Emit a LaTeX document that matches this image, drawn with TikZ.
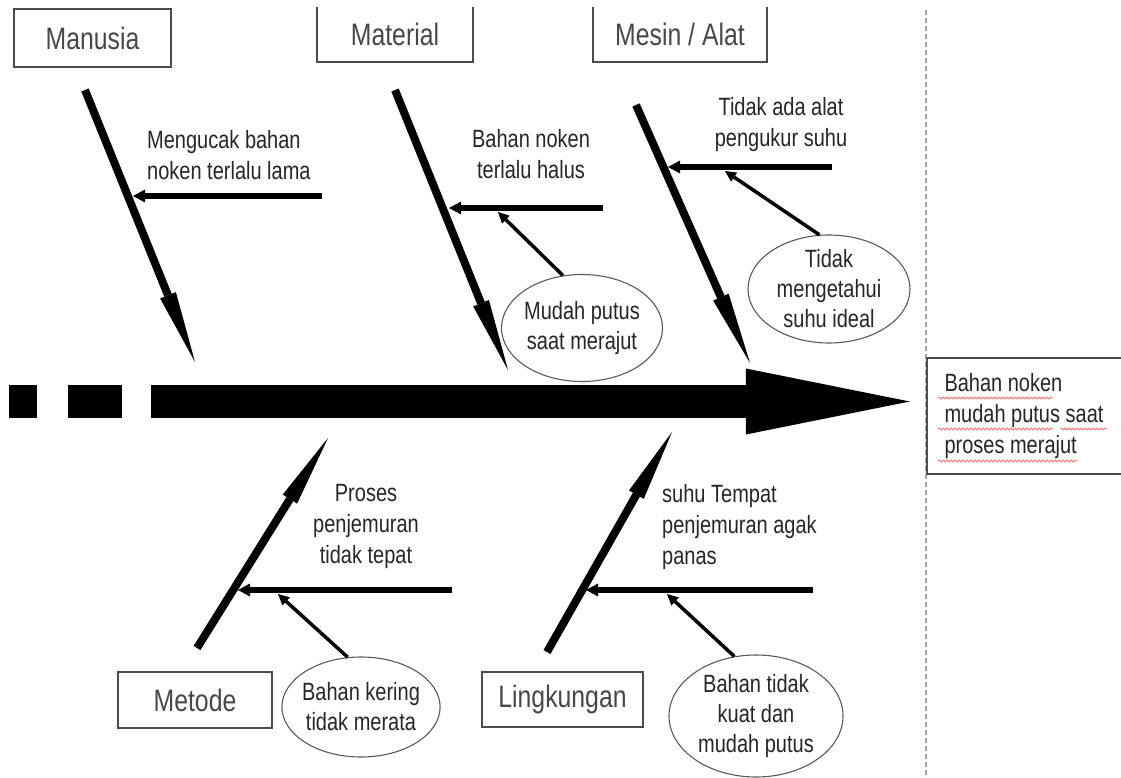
\documentclass[tikz,border=0pt]{standalone}
\usepackage{fontspec}
\setmainfont{Liberation Sans}[FakeStretch=0.8]
\usetikzlibrary{arrows.meta, shapes.geometric, decorations.pathmorphing}

\begin{document}
\begin{tikzpicture}[x=1pt, y=-1pt,
    katbox/.style={rectangle, draw=black!70, line width=1.6pt, inner sep=0pt, text=black!72, font=\fontsize{31}{36}\selectfont},
    sebab/.style={inner sep=0pt, text=black!85, font=\fontsize{25}{31}\selectfont},
    akar/.style={ellipse, draw=black!65, line width=1.1pt, inner sep=-3pt, align=center, text=black!85, font=\fontsize{25}{30}\selectfont},
    tulang/.style={line width=8pt, -{Triangle[length=72pt, width=17pt, line width=0pt]}},
    cabang/.style={line width=5.5pt, -{Triangle[length=12pt, width=13pt, line width=0pt]}},
    ranting/.style={line width=3.5pt, -{Triangle[length=11pt, width=11pt, line width=0pt]}},
    garis/.style={draw=black!70, line width=1.6pt},
    gelombang/.style={draw=red!55, line width=0.8pt, decorate, decoration={snake, amplitude=1pt, segment length=4pt}}]
    \useasboundingbox (0,0) rectangle (1121,778);

    \draw[black!35, line width=1.5pt, dash pattern=on 5pt off 3pt] (926,10) -- (926,778);

    % kepala ikan
    \node[sebab, align=left, inner xsep=11pt, minimum width=194pt, minimum height=116pt] (efek) at (1024,416) {Bahan noken\\mudah putus saat\\proses merajut};
    \draw[garis] (efek.north east) -- (efek.north west) -- (efek.south west) -- (efek.south east);
    \draw[gelombang] (938,398) -- (1053,398);
    \draw[gelombang] (938,429) -- (1053,429);
    \draw[gelombang] (1060,429) -- (1107,429);
    \draw[gelombang] (938,461) -- (1078,461);

    % tulang utama
    \fill (9,385) rectangle (37,418);
    \fill (68,385) rectangle (122,418);
    \coordinate (ekor) at (151,401.5);
    \draw[line width=33pt, -{Triangle[length=164pt, width=66pt, line width=0pt]}, shorten >=17pt] (ekor) -- (ekor -| efek.west);

    % Manusia
    \node[katbox, minimum width=157pt, minimum height=58pt] (man) at (92.5,38) {Manusia};
    \coordinate (man-a) at (85,90);
    \coordinate (man-b) at (195,362);
    \coordinate (man-c) at (322,196);
    \coordinate (man-d) at (133,196);
    \draw[tulang] (man-a) -- (man-b);
    \draw[cabang] (man-c) -- (man-d);
    \node[sebab, anchor=north west, align=left] (man-txt) at (147,130) {Mengucak bahan\\noken terlalu lama};

    % Material
    \node[katbox, draw=none, minimum width=154pt, minimum height=53pt] (mat) at (395,34.5) {Material};
    \draw[garis] (mat.north west) -- (mat.south west) -- (mat.south east) -- (mat.north east);
    \coordinate (mat-a) at (395,90);
    \coordinate (mat-b) at (508,370);
    \coordinate (mat-c) at (603,208);
    \coordinate (mat-d) at (449,208);
    \coordinate (mat-e) at (498,212);
    \draw[tulang] (mat-a) -- (mat-b);
    \draw[cabang] (mat-c) -- (mat-d);
    \node[sebab, anchor=north, align=center] (mat-txt) at (531,129) {Bahan noken\\terlalu halus};
    \node[akar, minimum width=161pt, minimum height=107pt] (mat-el) at (582,328) {Mudah putus\\saat merajut};
    \draw[ranting] (mat-el.110) -- (mat-e);

    % Mesin / Alat
    \node[katbox, draw=none, minimum width=172pt, minimum height=53pt] (mes) at (680,34.5) {Mesin / Alat};
    \draw[garis] (mes.north west) -- (mes.south west) -- (mes.south east) -- (mes.north east);
    \coordinate (mes-a) at (636,105);
    \coordinate (mes-b) at (750,363);
    \coordinate (mes-c) at (832,167);
    \coordinate (mes-d) at (668,167);
    \coordinate (mes-e) at (725,171);
    \draw[tulang] (mes-a) -- (mes-b);
    \draw[cabang] (mes-c) -- (mes-d);
    \node[sebab, anchor=north, align=center] (mes-txt) at (781,97) {Tidak ada alat\\pengukur suhu};
    \node[akar, minimum width=162pt, minimum height=108pt] (mes-el) at (829,289) {Tidak\\mengetahui\\suhu ideal};
    \draw[ranting] (mes-el.100) -- (mes-e);

    % Metode
    \node[katbox, minimum width=154pt, minimum height=56pt] (met) at (195,700) {Metode};
    \coordinate (met-a) at (197,648);
    \coordinate (met-b) at (328,438);
    \coordinate (met-c) at (452,590);
    \coordinate (met-d) at (238,590);
    \coordinate (met-e) at (278,594);
    \draw[tulang] (met-a) -- (met-b);
    \draw[cabang] (met-c) -- (met-d);
    \node[sebab, anchor=north, align=center] (met-txt) at (366,484) {Proses\\penjemuran\\tidak tepat};
    \node[akar, minimum width=158pt, minimum height=100pt] (met-el) at (361,707) {Bahan kering\\tidak merata};
    \draw[ranting] (met-el.105) -- (met-e);

    % Lingkungan
    \node[katbox, minimum width=161pt, minimum height=55pt] (lin) at (562.5,699.5) {Lingkungan};
    \coordinate (lin-a) at (547,652);
    \coordinate (lin-b) at (672,432);
    \coordinate (lin-c) at (813,590);
    \coordinate (lin-d) at (586,590);
    \coordinate (lin-e) at (667,594);
    \draw[tulang] (lin-a) -- (lin-b);
    \draw[cabang] (lin-c) -- (lin-d);
    \node[sebab, anchor=north west, align=left] (lin-txt) at (662,484) {suhu Tempat\\penjemuran agak\\panas};
    \node[akar, minimum width=174pt, minimum height=122pt] (lin-el) at (756,716) {Bahan tidak\\kuat dan\\mudah putus};
    \draw[ranting] (lin-el.110) -- (lin-e);
\end{tikzpicture}
\end{document}
